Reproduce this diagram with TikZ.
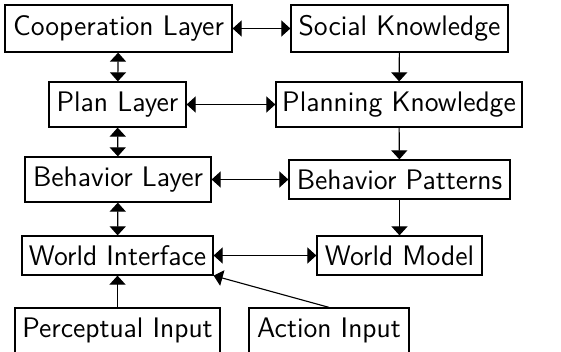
\documentclass[tikz,border=0pt]{standalone}
\usetikzlibrary{arrows.meta}

\tikzset{
  livello/.style={draw, line width=0.5pt, inner sep=0pt, font=\sffamily\fontsize{11.3}{13}\selectfont},
  freccia/.style={line width=0.45pt, -{Triangle[length=3.6pt,width=6.4pt]}},
  doppia/.style={line width=0.45pt, {Triangle[length=3.6pt,width=6.4pt]}-{Triangle[length=3.6pt,width=6.4pt]}}
}

\begin{document}
\begin{tikzpicture}[x=0.4pt, y=-0.4pt]
        % Area visibile
        \useasboundingbox (0,0) rectangle (561,352);
        \clip (0,0) rectangle (561,352);

        % Livelli (colonna sinistra)
        \node[livello, minimum width=227*0.4pt, minimum height=47*0.4pt] (coop) at (118.5,28.5) {Cooperation Layer};
        \node[livello, minimum width=137*0.4pt, minimum height=45*0.4pt] (plan) at (117.5,104.5) {Plan Layer};
        \node[livello, minimum width=186*0.4pt, minimum height=45*0.4pt] (behav) at (118,179.5) {Behavior Layer};
        \node[livello, minimum width=191*0.4pt, minimum height=39*0.4pt] (world) at (117.5,255.5) {World Interface};

        % Conoscenze (colonna destra)
        \node[livello, minimum width=217*0.4pt, minimum height=47*0.4pt] (social) at (399.5,28.5) {Social Knowledge};
        \node[livello, minimum width=246*0.4pt, minimum height=45*0.4pt] (planning) at (399,104.5) {Planning Knowledge};
        \node[livello, minimum width=221*0.4pt, minimum height=39*0.4pt] (patterns) at (399.5,179.5) {Behavior Patterns};
        \node[livello, minimum width=165*0.4pt, minimum height=39*0.4pt] (model) at (399.5,255.5) {World Model};

        % Ingressi
        \node[livello, minimum width=205*0.4pt, minimum height=45*0.4pt] (percept) at (117.5,330.5) {Perceptual Input};
        \node[livello, minimum width=160*0.4pt, minimum height=45*0.4pt] (action) at (329,330.5) {Action Input};

        % Collegamenti orizzontali
        \draw[doppia] (coop) -- (social);
        \draw[doppia] (plan) -- (planning);
        \draw[doppia] (behav) -- (patterns);
        \draw[doppia] (world) -- (model);

        % Collegamenti verticali
        \draw[doppia] (coop) -- (plan);
        \draw[doppia] (plan) -- (behav);
        \draw[doppia] (behav) -- (world);
        \draw[freccia] (social) -- (planning);
        \draw[freccia] (planning) -- (patterns);
        \draw[freccia] (patterns) -- (model);

        % Ingressi verso l'interfaccia
        \draw[freccia] (percept) -- (world);
        \draw[freccia] (action.north) -- (world.south east);
    \end{tikzpicture}
\end{document}
